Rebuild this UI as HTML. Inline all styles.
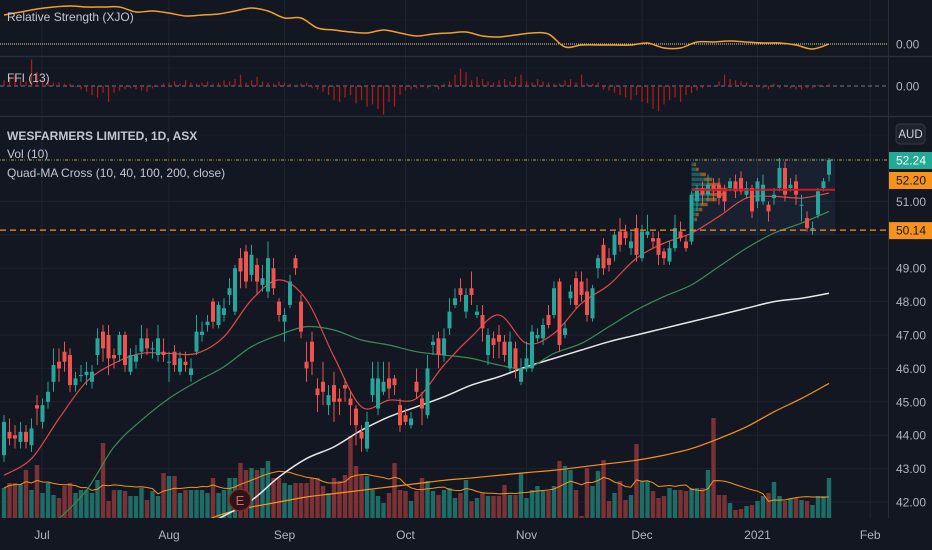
<!DOCTYPE html>
<html><head><meta charset="utf-8">
<style>
html,body{margin:0;padding:0;background:#131722;}
body{width:932px;height:550px;overflow:hidden;position:relative;font-family:"Liberation Sans",sans-serif;}
svg{position:absolute;left:0;top:0;}
text{font-family:"Liberation Sans",sans-serif;}
</style></head>
<body>
<svg id="chart" width="932" height="550" viewBox="0 0 932 550" xmlns="http://www.w3.org/2000/svg"></svg>
<script>
// ===== DATA =====
const monthLabels=["Jul","Aug","Sep","Oct","Nov","Dec","2021","Feb"];
const monthBars=[6.9,30,51,73,95,116,137,157.5];
const priceTicks=[42,43,44,45,46,47,48,49,51];
const opens=[43.4,44.1,44.0,43.8,44.1,43.7,44.9,44.4,45.0,45.6,46.2,46.5,46.4,45.5,45.8,45.8,45.6,46.4,47.1,47.0,46.4,46.4,47.0,45.9,46.2,46.5,46.9,46.6,46.4,46.5,46.2,46.5,45.9,46.2,45.8,46.5,47.0,47.3,48.0,47.3,47.6,48.2,47.7,49.3,49.5,48.8,49.1,48.5,48.3,49.0,48.0,47.4,47.9,49.3,48.0,46.2,46.8,45.4,45.6,44.9,45.5,45.1,45.5,45.1,44.8,44.1,43.6,45.2,44.8,45.3,45.7,45.7,44.9,44.6,44.3,45.6,45.1,44.6,46.7,46.9,46.4,47.2,47.9,48.4,47.7,48.4,47.6,47.6,46.4,46.9,47.0,46.8,46.0,46.6,45.6,46.0,46.0,46.9,46.9,47.6,47.6,48.6,47.0,48.1,48.7,48.6,48.3,47.5,49.0,49.7,49.3,49.4,50.1,50.1,49.6,50.2,49.3,50.0,49.9,49.9,49.5,49.2,49.6,50.1,49.8,49.8,51.0,51.4,51.2,51.5,51.5,51.3,51.4,51.6,51.7,51.2,51.4,51.0,51.0,50.9,51.1,51.4,52.0,51.4,51.6,50.9,50.5,50.2,50.6,51.4,51.8];
const closes=[44.4,43.9,43.9,44.1,43.8,44.2,44.8,44.9,45.3,46.1,46.0,46.2,45.5,45.7,45.8,45.9,45.9,46.9,46.6,46.3,46.3,47.0,46.1,46.4,46.4,46.9,46.6,46.6,46.9,46.4,46.2,46.1,46.3,46.1,46.0,47.1,47.1,47.4,47.4,47.9,47.8,48.4,49.0,48.9,48.6,49.4,48.6,48.7,49.3,48.4,47.6,47.6,48.6,49.0,47.1,46.0,46.2,45.2,45.3,45.2,45.0,45.0,45.4,44.9,44.3,43.9,44.4,45.7,45.7,45.6,45.4,45.5,44.3,44.4,44.5,45.3,44.8,46.0,46.8,46.4,46.9,47.7,48.1,48.2,48.2,48.2,47.7,47.2,47.0,46.7,46.8,46.4,46.8,46.0,46.0,46.3,47.1,47.0,47.3,47.3,48.4,46.7,47.2,48.3,47.9,48.2,47.6,48.4,49.3,49.0,49.1,50.0,49.7,49.9,49.8,49.4,50.1,50.1,49.8,49.4,49.3,49.6,50.2,49.9,49.6,51.2,51.4,51.2,51.5,51.3,51.1,51.0,51.6,51.3,51.3,51.4,50.7,51.6,51.5,50.7,51.2,52.0,51.2,51.5,51.2,50.9,50.2,50.2,51.3,51.6,52.24];
const highs=[44.6,44.5,44.3,44.4,44.3,44.5,45.2,45.1,45.6,46.6,46.6,46.8,46.6,45.9,46.1,46.2,46.1,47.2,47.3,47.3,46.6,47.1,47.1,46.6,46.7,47.3,47.2,46.8,47.3,46.9,46.5,46.7,46.5,46.5,46.3,47.6,47.4,47.6,48.1,48.0,48.1,48.7,49.1,49.6,49.7,49.7,49.3,49.1,49.8,49.3,48.1,47.8,48.8,49.4,48.2,46.8,47.1,45.7,46.2,45.5,45.9,45.4,45.7,45.3,44.9,44.3,44.7,46.2,46.2,46.2,46.2,45.8,45.1,44.8,44.7,46.0,45.3,46.4,47.0,47.1,47.2,48.1,48.4,48.7,48.4,48.9,47.9,47.9,47.2,47.1,47.3,47.0,47.1,46.8,46.3,46.8,47.3,47.2,47.5,47.9,48.6,48.7,47.4,48.5,48.9,48.9,48.7,48.5,49.4,49.9,49.6,50.1,50.5,50.3,50.1,50.6,50.3,50.6,50.1,50.1,49.6,49.8,50.6,50.4,50.0,51.3,51.5,51.6,51.8,51.7,51.7,51.5,51.7,51.8,51.9,51.6,51.5,51.7,51.8,51.0,51.4,52.3,52.2,51.7,51.8,51.2,50.7,50.4,51.4,51.7,52.3];
const lows=[43.2,43.7,43.6,43.6,43.6,43.5,44.3,44.2,44.8,45.3,45.6,45.9,45.3,45.3,45.6,45.5,45.4,46.1,46.2,45.8,46.0,46.2,45.9,45.8,46.0,46.3,46.4,46.3,46.2,46.2,45.6,45.9,45.8,45.9,45.6,46.4,46.8,47.1,47.2,47.2,47.4,47.9,47.6,48.4,48.4,48.6,48.2,48.3,48.1,48.2,47.4,46.8,47.8,48.8,46.9,45.6,45.8,44.7,44.9,44.6,44.4,44.6,45.0,44.3,43.7,43.5,43.5,45.0,44.6,45.2,45.1,45.2,44.1,44.3,44.2,45.1,44.3,44.5,46.4,46.0,46.2,47.0,47.8,48.0,47.5,47.9,47.5,46.8,46.1,46.3,46.3,46.2,45.9,45.7,45.5,45.9,45.9,46.8,46.7,47.2,47.5,46.5,46.9,47.9,47.8,48.0,47.4,47.4,48.7,48.8,48.9,49.2,49.5,49.7,49.4,49.2,49.2,49.9,49.6,49.1,49.1,49.1,49.5,49.8,49.5,49.7,50.7,50.9,51.0,51.0,50.9,50.7,51.3,51.1,51.2,51.1,50.5,50.8,50.9,50.4,50.9,51.3,51.0,51.3,50.9,50.4,50.1,50.0,50.5,51.3,51.6];
const volumes=[3.0,3.5,3.5,3.4,4.8,2.8,5.3,2.5,3.5,2.3,2.0,3.2,3.5,2.5,2.8,2.8,2.5,3.8,7.5,1.7,2.8,2.8,2.7,2.2,2.2,3.0,1.8,2.7,2.2,4.5,4.2,4.2,2.5,2.8,2.8,2.8,2.8,2.5,4.0,2.5,2.8,4.0,4.0,5.5,4.8,5.0,4.8,5.0,5.7,4.0,4.0,3.5,3.3,3.5,3.5,3.5,4.0,4.0,3.2,2.5,4.0,3.7,4.3,8.2,5.2,4.3,4.2,2.8,2.2,1.5,2.5,5.5,2.8,2.7,1.7,2.7,4.0,3.7,2.7,2.3,2.8,3.0,2.0,2.5,3.8,1.7,2.0,2.5,2.2,2.2,2.2,3.3,2.3,2.3,4.5,2.0,2.8,3.2,2.7,2.7,3.2,5.7,5.2,4.8,2.8,0.2,5.0,3.2,4.7,5.8,1.7,2.5,3.7,1.8,2.3,7.4,3.7,3.7,2.7,2.0,2.2,3.0,2.8,2.8,2.7,3.0,3.0,3.0,4.8,10.0,2.3,2.3,1.5,0.8,0.9,1.2,1.3,1.7,2.2,2.5,3.6,2.2,1.7,2.0,2.0,1.8,1.7,1.3,2.2,2.2,4.0];
const ma10Idx=[0,5,10,15,20,25,30,35,40,45,50,55,60,65,70,75,80,85,90,95,100,105,110,115,120,125,130,135,140,145,150];
const ma10Val=[42.8,43.3,44.5,45.6,46.15,46.45,46.45,46.45,46.95,48.05,48.65,48.05,46.35,44.85,45.05,45.1,46.1,46.95,47.6,46.75,47.05,47.95,48.5,49.3,49.75,50.05,50.55,51.1,51.15,51.1,51.25];
const ma40Idx=[10,15,20,25,30,35,40,45,50,55,60,65,70,75,80,85,90,95,100,105,110,115,120,125,130,135,140,145,150];
const ma40Val=[41.5,42.35,43.65,44.45,45.1,45.6,46.05,46.65,47.0,47.25,47.15,46.85,46.7,46.5,46.4,46.3,46.1,46.0,46.45,46.75,47.25,47.75,48.15,48.5,49.05,49.6,50.05,50.35,50.7];
const ma100Idx=[39,45,50,55,60,65,70,75,80,85,90,95,100,105,110,115,120,125,130,135,140,145,150];
const ma100Val=[41.5,42.05,42.75,43.3,43.65,44.15,44.55,44.85,45.15,45.5,45.75,46.05,46.3,46.55,46.8,47.0,47.2,47.4,47.6,47.8,48.0,48.1,48.25];
const ma200Idx=[36,40,45,50,55,60,65,70,75,80,85,90,95,100,105,110,115,120,125,130,135,140,145,150];
const ma200Val=[41.4,41.65,41.85,42.0,42.15,42.25,42.35,42.45,42.55,42.65,42.72,42.8,42.88,42.95,43.05,43.15,43.25,43.4,43.6,43.9,44.25,44.7,45.1,45.55];
const rsVal=[2.9,3.2,3.5,3.7,3.8,3.7,3.7,3.7,3.2,3.3,3.1,2.8,2.9,3.0,3.3,3.6,3.3,2.6,2.6,1.6,1.4,1.2,1.1,1.4,1.1,0.8,1.0,1.1,1.2,0.8,0.7,0.9,1.1,1.0,-0.3,-0.1,-0.1,-0.1,-0.1,0.1,-0.4,-0.4,0.2,0.2,0.3,0.2,0.1,0.1,-0.1,-0.5,0.0];
const ffiVal=[5,8,10,6,4,23,12,6,5,3,3,2,2,-1,-3,-5,-8,-10,-6,-14,-6,-4,-3,-2,-3,-4,-5,-2,-1,2,3,4,2,5,3,2,3,4,2,3,5,4,6,10,3,5,8,4,3,2,4,3,2,1,2,3,-2,-3,-5,-8,-12,-14,-10,-8,-15,-12,-18,-16,-20,-25,-14,-18,-8,-4,-3,-2,-1,-2,1,-3,2,4,10,15,12,5,8,6,4,3,5,6,4,8,10,4,3,6,4,3,2,2,5,6,3,10,2,2,3,-3,-4,-6,-8,-10,-12,-8,-14,-15,-20,-22,-16,-12,-10,-14,-8,-6,-4,-2,-1,0,4,10,6,5,4,3,1,-1,-2,-3,2,-2,-1,-2,-3,-3,-2,-2,1,-1,2];
const profPrice=[52.1,51.95,51.8,51.65,51.5,51.35,51.2,51.05,50.9,50.75,50.6,50.45];
const profUp=[3,5,10,14,18,22,20,16,10,8,5,4];
const profDown=[2,3,6,9,14,18,16,12,8,4,3,2];

// ===== SCALES =====
const X=i=>4+5.5*i;
const Y=p=>502-(p-42)*33.4;
const VY=v=>518-v*10;
const RSY=v=>44-v*10;
const FY=v=>86-v*1.15;
const svg=document.getElementById('chart');
const NS='http://www.w3.org/2000/svg';
function mk(tag,attrs,parent){const e=document.createElementNS(NS,tag);for(const k in attrs)e.setAttribute(k,attrs[k]);(parent||svg).appendChild(e);return e;}
function smooth(pts){let d='M'+pts[0][0]+','+pts[0][1];for(let i=0;i<pts.length-1;i++){const p0=pts[Math.max(0,i-1)],p1=pts[i],p2=pts[i+1],p3=pts[Math.min(pts.length-1,i+2)];
 const c1=[p1[0]+(p2[0]-p0[0])/6,p1[1]+(p2[1]-p0[1])/6],c2=[p2[0]-(p3[0]-p1[0])/6,p2[1]-(p3[1]-p1[1])/6];
 d+=' C'+c1[0]+','+c1[1]+' '+c2[0]+','+c2[1]+' '+p2[0]+','+p2[1];}return d;}
const UP='#26a69a',DN='#ef5350';

const grid=mk('g',{});


monthBars.forEach(b=>{mk('line',{x1:X(b),x2:X(b),y1:0,y2:518,stroke:'#1f2330','stroke-width':1},grid);});
priceTicks.concat([50]).forEach(p=>{mk('line',{x1:0,x2:888,y1:Y(p),y2:Y(p),stroke:'#1f2330','stroke-width':1},grid);});
[20,68,100,135].forEach(y=>{mk('line',{x1:0,x2:888,y1:y,y2:y,stroke:'#1a1e2a','stroke-width':1},grid);});
mk('line',{x1:0,x2:932,y1:56.5,y2:56.5,stroke:'#2a2e39','stroke-width':1.5});
mk('line',{x1:0,x2:932,y1:116.5,y2:116.5,stroke:'#2a2e39','stroke-width':1.5});
mk('line',{x1:888.5,x2:888.5,y1:0,y2:518,stroke:'#2a2e39','stroke-width':1});

mk('line',{x1:0,x2:888,y1:44,y2:44,stroke:'#e0d6a8','stroke-width':1,'stroke-dasharray':'1,1'});
const rsLine=mk('path',{d:smooth(rsVal.map((v,k)=>[X(k*3),RSY(v)])),fill:'none',stroke:'#f0a12a','stroke-width':1.5});


mk('line',{x1:0,x2:888,y1:86,y2:86,stroke:'#787b86','stroke-width':1,'stroke-dasharray':'4,3'});
const ffiG=mk('g',{});


ffiVal.forEach((v,i)=>{const r=mk('rect',{x:X(i)-0.6,y:Math.min(FY(v),86),width:1.3,height:Math.max(Math.abs(86-FY(v)),0.5),fill:'#a81c1c'},ffiG);

});

const defs=mk('defs',{});
const cp=mk('clipPath',{id:'mc'},defs);mk('rect',{x:0,y:117,width:888,height:401},cp);
const main=mk('g',{'clip-path':'url(#mc)'});



const volG=mk('g',{},main);


volumes.forEach((v,i)=>{const up=closes[i]>=opens[i];const r=mk('rect',{x:X(i)-2.2,y:VY(v),width:4.4,height:v*10,fill:up?'#1f6b65':'#7a3236'},volG);

});
const vma=volumes.map((v,i)=>{const s=volumes.slice(Math.max(0,i-9),i+1);return s.reduce((a,b)=>a+b,0)/s.length;});
const vmaL=mk('polyline',{points:vma.map((v,i)=>X(i)+','+VY(v)).join(' '),fill:'none',stroke:'#f7931a','stroke-width':1},main);



const pbx=X(125),pbw=X(150)+6-X(125);
const pbox=mk('rect',{x:pbx,y:Y(52.3),width:pbw,height:Y(50.0)-Y(52.3),fill:'rgba(60,90,130,0.16)'},main);


profPrice.forEach((p,k)=>{
 const a=mk('rect',{x:pbx,y:Y(p)-2,width:profUp[k]*0.9,height:3.5,fill:'rgba(38,166,154,0.45)'},main);
 
 
 const b=mk('rect',{x:pbx+profUp[k]*0.9,y:Y(p)-2,width:profDown[k]*0.9,height:3.5,fill:'rgba(247,147,26,0.5)'},main);
 
 
});

function maLine(idx,val,color,name,w){const l=mk('path',{d:smooth(idx.map((b,k)=>[X(b),Y(val[k])])),fill:'none',stroke:color,'stroke-width':w||1.2},main);

}
maLine(ma200Idx,ma200Val,'#f7931a','ma-200-line');
maLine(ma100Idx,ma100Val,'#e8e8e8','ma-100-line',1.5);
maLine(ma40Idx,ma40Val,'#3d8a55','ma-40-line');
maLine(ma10Idx,ma10Val,'#e04848','ma-10-line');

const cG=mk('g',{},main);


closes.forEach((c,i)=>{const o=opens[i];const col=c>=o?UP:DN;const x=X(i);
 mk('line',{x1:x,x2:x,y1:Y(highs[i]),y2:Y(lows[i]),stroke:col,'stroke-width':1},cG);
 const top=Y(Math.max(o,c)),h=Math.max(Y(Math.min(o,c))-top,1);
 const r=mk('rect',{x:x-2,y:top,width:4,height:h,fill:col},cG);
 
 });

const poc=mk('line',{x1:pbx,x2:pbx+pbw,y1:Y(51.35),y2:Y(51.35),stroke:'#d0161f','stroke-width':2},main);



const lastY=Y(closes[closes.length-1]);
mk('line',{x1:0,x2:888,y1:lastY,y2:lastY,stroke:'#26a69a','stroke-width':1,'stroke-dasharray':'1,2'});
mk('line',{x1:2,x2:888,y1:lastY,y2:lastY,stroke:'#f7931a','stroke-width':1,'stroke-dasharray':'3,6'});
const supY=Y(50.14);
const sup=mk('line',{x1:0,x2:888,y1:supY,y2:supY,stroke:'#f7931a','stroke-width':1.3,'stroke-dasharray':'6,4'});



const eg=mk('g',{});


mk('circle',{cx:240,cy:500,r:11,fill:'#2a1518',stroke:'#8c2a2a','stroke-width':1.5},eg);
const et=mk('text',{x:240,y:505,'text-anchor':'middle','font-size':13,fill:'#e06060'},eg);et.textContent='E';

const axG=mk('g',{});


priceTicks.forEach(p=>{const t=mk('text',{x:896,y:Y(p)+4.5,'font-size':12,fill:'#b2b5be'},axG);t.textContent=p.toFixed(2);});
[['0.00',44],['0.00',86]].forEach(([s,y])=>{const t=mk('text',{x:896,y:y+4.5,'font-size':12,fill:'#b2b5be'},axG);t.textContent=s;});
function tag(val,y,bg,fg,name){const g=mk('g',{});
 mk('rect',{x:889,y:y-8,width:43,height:17,fill:bg},g);const t=mk('text',{x:896,y:y+4.5,'font-size':12,fill:fg},g);t.textContent=val;}
tag('52.24',lastY,'#22ab94','#ffffff','last-price-tag');
tag('52.20',180,'#f7931a','#131722','ma-price-tag');
tag('50.14',supY,'#f7931a','#131722','support-price-tag');
const aud=mk('g',{});
mk('rect',{x:896,y:124,width:29,height:20,rx:4,fill:'#1e222d',stroke:'#363a45'},aud);
const at=mk('text',{x:910.5,y:138,'text-anchor':'middle','font-size':11.5,fill:'#d1d4dc'},aud);at.textContent='AUD';

const xG=mk('g',{});


monthLabels.forEach((m,k)=>{const t=mk('text',{x:X(monthBars[k]),y:539,'text-anchor':'middle','font-size':12,fill:'#b2b5be'},xG);t.textContent=m;});

function lg(txt,y,bold,name){const t=mk('text',{x:7,y:y,'font-size':12,fill:'#c3c6ce','font-weight':bold?'bold':'normal'});t.textContent=txt;

}
lg('Relative Strength (XJO)',21,false,'rs-legend');
lg('FFI (13)',82,false,'ffi-legend');
lg('WESFARMERS LIMITED, 1D, ASX',140,true,'symbol-title');
lg('Vol (10)',158,false,'volume-legend');
lg('Quad-MA Cross (10, 40, 100, 200, close)',177,false,'quad-ma-legend');
</script>
</body></html>
